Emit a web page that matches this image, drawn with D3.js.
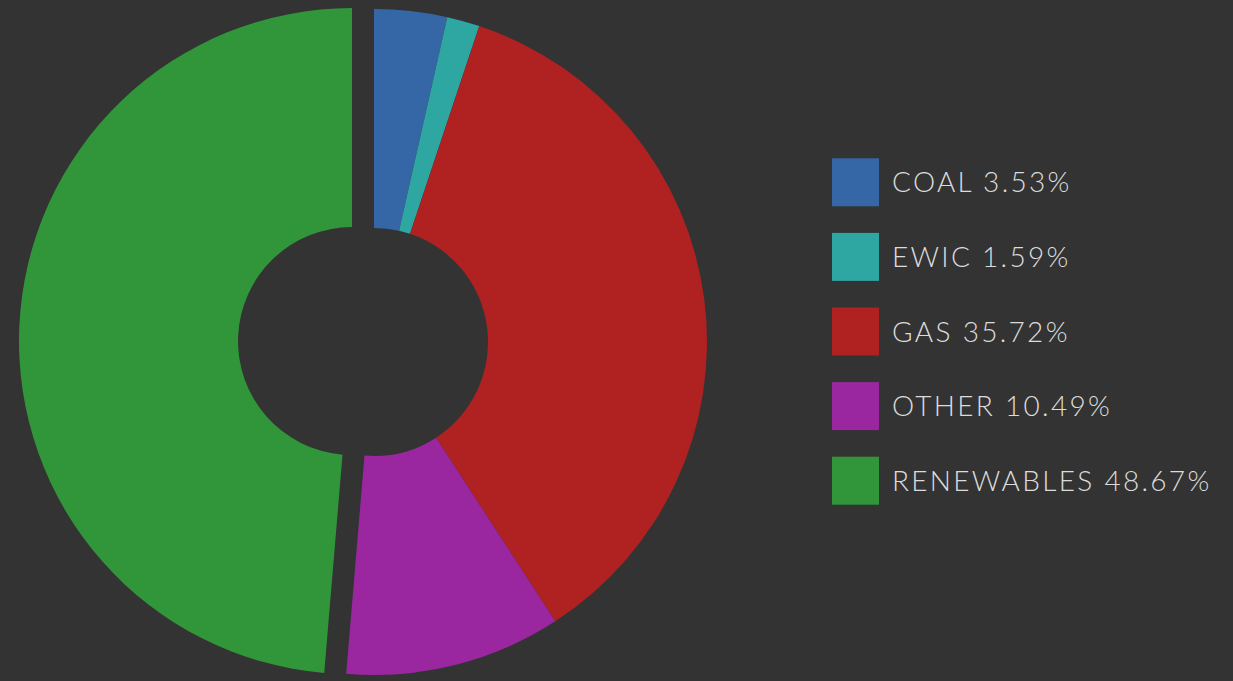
<!DOCTYPE html>
<html>
<head>
<meta charset="utf-8">
<script src="https://cdn.jsdelivr.net/npm/d3@7"></script>
<style>
	html, body { margin: 0; padding: 0; background: #333333; }
	#chart { width: 1233px; height: 681px; }
	.legend text { font-family: Lato, "Open Sans", sans-serif; font-weight: 300; fill: #dcdcdc; }
</style>
</head>
<body>
<div id="chart"></div>
<script>
const categories = ["COAL", "EWIC", "GAS", "OTHER", "RENEWABLES"];
const shares = [3.53, 1.59, 35.72, 10.49, 48.67];
const colors = ["#3566a6", "#2ea6a2", "#b02222", "#9a279f", "#31963a"];
const exploded = "RENEWABLES";

const width = 1233;
const height = 681;

const data = categories.map(function(c, i) {
	return {"name": c, "value": shares[i]};
});

let svg = d3.select("#chart").append("svg")
	.attr("width", width)
	.attr("height", height);

svg.append("rect")
	.attr("width", width)
	.attr("height", height)
	.attr("fill", "#333333");

const outer_radius = 333;
const inner_radius = 114;
const pull = 22;

let color = d3.scaleOrdinal().domain(categories).range(colors);

let pie = d3.pie()
	.sort(null)
	.value(function(d) { return d["value"]; });

let arc = d3.arc()
	.outerRadius(outer_radius)
	.innerRadius(inner_radius);

let pie_g = svg.append("g")
	.attr("transform", "translate(" + 374 + "," + 342 + ")");

pie_g.selectAll(".arc")
	.data(pie(data))
	.enter().append("path")
		.attr("class", "arc")
		.attr("d", arc)
		.attr("fill", function(d) { return color(d.data["name"]); })
		.attr("transform", function(d) {
			if (d.data["name"] !== exploded) return null;
			var a = (d.startAngle + d.endAngle) / 2;
			return "translate(" + (Math.sin(a) * pull) + "," + (-Math.cos(a) * pull) + ")";
		});

// legend
let legend_y = d3.scaleBand()
	.domain(categories)
	.range([145, 518]);

let legend = svg.append("g")
	.attr("class", "legend")
	.attr("transform", "translate(" + 832 + "," + 0 + ")");

let items = legend.selectAll(".item")
	.data(data)
	.enter().append("g")
		.attr("class", "item")
		.attr("transform", function(d) {
			return "translate(0," + (legend_y(d["name"]) + legend_y.bandwidth() / 2) + ")";
		});

items.append("rect")
	.attr("x", 0)
	.attr("y", -24)
	.attr("width", 47)
	.attr("height", 48)
	.attr("fill", function(d) { return color(d["name"]); });

items.append("text")
	.attr("x", 60)
	.attr("dy", "0.36em")
	.attr("font-size", 28)
	.attr("letter-spacing", "2.3")
	.text(function(d) { return d["name"] + " " + d["value"].toFixed(2) + "%"; });
</script>
</body>
</html>
